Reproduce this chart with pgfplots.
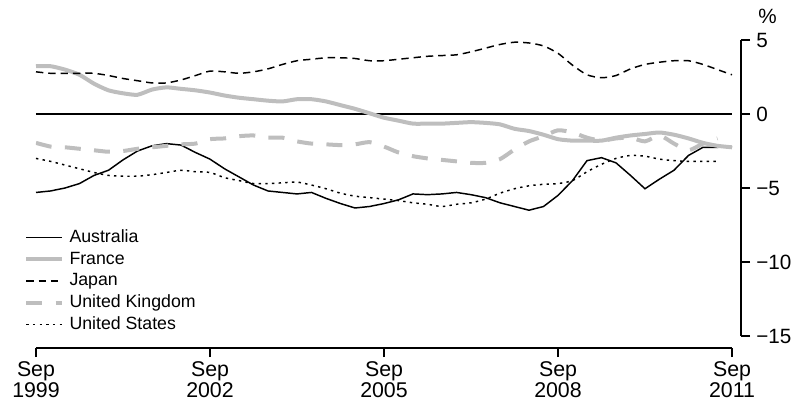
\documentclass[border=0pt]{standalone}
\usepackage{pgfplots}
\pgfplotsset{compat=1.18}
\usepackage{fontspec}
\setmainfont{Liberation Sans}
\definecolor{lgray}{RGB}{190,190,190}

\begin{document}
\begin{tikzpicture}
\useasboundingbox (-27pt,-51.75pt) rectangle (570pt,252pt);
\begin{axis}[
 at={(0,0)}, anchor=south west,
 scale only axis, width=522pt, height=222pt,
 xmin=0, xmax=48, ymin=-15, ymax=5,
 axis x line*=bottom, axis y line*=right,
 axis x line shift=9pt, axis y line shift=6.75pt,
 axis line style={-, line width=1pt, black},
 tick align=outside, major tick length=6.75pt,
 tick style={line width=1pt, black},
 xtick={0,12,24,36,48},
 xticklabels={Sep\\1999,Sep\\2002,Sep\\2005,Sep\\2008,Sep\\2011},
 xticklabel style={align=center, font=\fontsize{16}{16}\selectfont, inner sep=0pt, yshift=-3pt},
 ytick={-15,-10,-5,0,5},
 yticklabels={−15,−10,−5,0,5},
 yticklabel style={font=\fontsize{15.5}{16}\selectfont, inner sep=0pt, anchor=west, xshift=4.5pt},
 ylabel={\%},
 every axis y label/.style={at={(axis description cs:1,1)}, anchor=base west, xshift=19.5pt, yshift=12.75pt, font=\fontsize{15.5}{16}\selectfont, inner sep=0pt},
 legend style={at={(axis description cs:-0.017,0.3615)}, anchor=north west, draw=none, fill=none, inner sep=0pt, outer sep=0pt,
   font=\fontsize{13.3}{13.3}\selectfont, row sep=3.3pt,
   nodes={inner sep=0pt, text height=10pt, text depth=3pt},
   /tikz/every odd column/.append style={column sep=4pt}},
 legend cell align=left,
 legend image code/.code={\draw[#1] (0pt,0pt) -- (27pt,0pt);},
]
\addplot[black, line width=1pt, forget plot] coordinates {(0,0) (48,0)};

\addplot[black, line width=1.1pt] table {
0 -5.3
1 -5.2
2 -5.0
3 -4.7
4 -4.15
5 -3.8
6 -3.1
7 -2.5
8 -2.15
9 -2.0
10 -2.1
11 -2.6
12 -3.05
13 -3.7
14 -4.25
15 -4.8
16 -5.2
17 -5.3
18 -5.4
19 -5.3
20 -5.7
21 -6.05
22 -6.35
23 -6.25
24 -6.05
25 -5.8
26 -5.4
27 -5.45
28 -5.4
29 -5.3
30 -5.45
31 -5.65
32 -6.0
33 -6.25
34 -6.5
35 -6.25
36 -5.5
37 -4.5
38 -3.15
39 -2.95
40 -3.3
41 -4.15
42 -5.05
43 -4.4
44 -3.8
45 -2.8
46 -2.25
47 -2.25
48 -2.2
};
\addlegendentry{Australia}

\addplot[lgray, line width=3pt, smooth, tension=0.4] table {
0 3.23
1 3.23
2 3.0
3 2.65
4 2.05
5 1.6
6 1.4
7 1.3
8 1.65
9 1.8
10 1.7
11 1.6
12 1.45
13 1.25
14 1.1
15 1.0
16 0.9
17 0.85
18 1.0
19 1.0
20 0.85
21 0.6
22 0.35
23 0.05
24 -0.25
25 -0.45
26 -0.65
27 -0.65
28 -0.65
29 -0.6
30 -0.55
31 -0.6
32 -0.7
33 -1.0
34 -1.15
35 -1.4
36 -1.7
37 -1.8
38 -1.8
39 -1.8
40 -1.6
41 -1.45
42 -1.35
43 -1.25
44 -1.4
45 -1.65
46 -1.95
47 -2.15
48 -2.25
};
\addlegendentry{France}

\addplot[black, line width=1.1pt, dash pattern=on 5.5pt off 3.75pt, smooth, tension=0.4] table {
0 2.85
1 2.75
2 2.75
3 2.75
4 2.75
5 2.6
6 2.4
7 2.25
8 2.1
9 2.1
10 2.3
11 2.6
12 2.9
13 2.85
14 2.75
15 2.85
16 3.05
17 3.35
18 3.6
19 3.7
20 3.8
21 3.8
22 3.75
23 3.6
24 3.6
25 3.7
26 3.8
27 3.9
28 3.95
29 4.0
30 4.2
31 4.45
32 4.7
33 4.85
34 4.8
35 4.6
36 4.1
37 3.3
38 2.65
39 2.45
40 2.6
41 3.05
42 3.35
43 3.5
44 3.6
45 3.6
46 3.35
47 3.0
48 2.65
};
\addlegendentry{Japan}

\addplot[lgray, line width=3pt, dash pattern=on 12pt off 10pt, smooth, tension=0.4] table {
0 -1.95
1 -2.2
2 -2.25
3 -2.35
4 -2.45
5 -2.55
6 -2.5
7 -2.35
8 -2.25
9 -2.15
10 -2.05
11 -2.0
12 -1.7
13 -1.65
14 -1.5
15 -1.45
16 -1.6
17 -1.6
18 -1.85
19 -2.0
20 -2.05
21 -2.1
22 -2.05
23 -1.9
24 -2.2
25 -2.6
26 -2.85
27 -3.0
28 -3.1
29 -3.2
30 -3.3
31 -3.3
32 -3.05
33 -2.4
34 -1.85
35 -1.5
36 -1.1
37 -1.25
38 -1.6
39 -1.8
40 -1.65
41 -1.6
42 -1.85
43 -1.45
44 -2.0
45 -2.45
46 -2.0
47 -1.65
};
\addlegendentry{United Kingdom}

\addplot[black, line width=1.1pt, dash pattern=on 1.8pt off 3.2pt, smooth, tension=0.4] table {
0 -3.0
1 -3.2
2 -3.45
3 -3.7
4 -3.95
5 -4.15
6 -4.2
7 -4.2
8 -4.1
9 -3.95
10 -3.8
11 -3.9
12 -3.95
13 -4.3
14 -4.5
15 -4.7
16 -4.7
17 -4.65
18 -4.6
19 -4.8
20 -5.05
21 -5.35
22 -5.55
23 -5.65
24 -5.75
25 -5.85
26 -6.0
27 -6.1
28 -6.25
29 -6.1
30 -6.0
31 -5.75
32 -5.35
33 -5.05
34 -4.85
35 -4.75
36 -4.7
37 -4.5
38 -3.9
39 -3.4
40 -3.0
41 -2.8
42 -2.85
43 -3.05
44 -3.15
45 -3.2
46 -3.2
47 -3.2
};
\addlegendentry{United States}
\end{axis}
\end{tikzpicture}
\end{document}
